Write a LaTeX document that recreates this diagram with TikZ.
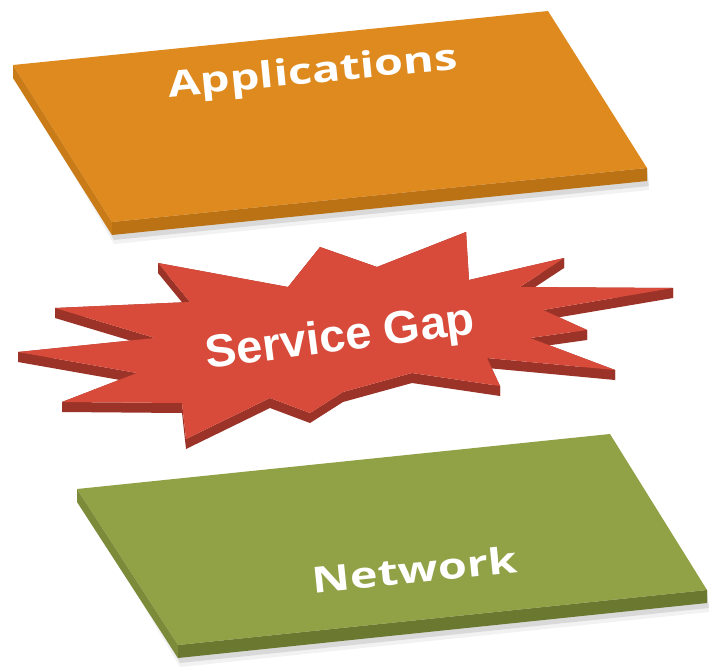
\documentclass[tikz,border=0pt]{standalone}
\usepackage{fontspec}
\newfontfamily\layerfont{Open Sans}
\newfontfamily\burstfont{Liberation Sans}
\usetikzlibrary{calc}
\definecolor{appTop}{HTML}{DE8A1E}
\definecolor{appFront}{HTML}{BB7214}
\definecolor{appLeft}{HTML}{C97B18}
\definecolor{netTop}{HTML}{91A146}
\definecolor{netFront}{HTML}{6A7830}
\definecolor{netLeft}{HTML}{7B8B3A}
\definecolor{gapTop}{HTML}{D84B3A}
\definecolor{gapSide}{HTML}{9C3328}
\begin{document}
\begin{tikzpicture}[x=1pt,y=-1pt,
  layertext/.style={text=white, inner sep=0pt, anchor=base,
    font=\layerfont\bfseries\fontsize{36}{40}\selectfont, rotate=#1, xscale=1.3},
  bursttext/.style={text=white, inner sep=0pt, anchor=base,
    font=\burstfont\bfseries\fontsize{46}{50}\selectfont, rotate=#1, xscale=1.02},
  softshadow/.style={fill=black, draw=none, opacity=#1}]
\useasboundingbox (0,0) rectangle (712,669);

% ---------- Applications layer (slab, 13 units thick) ----------
\coordinate (aTL) at (13,65);
\coordinate (aTR) at (548,11);
\coordinate (aBR) at (647,168);
\coordinate (aBL) at (112,222);
\foreach \off/\op in {5/0.10, 9/0.05}
  \fill[softshadow=\op] ($(aTL)+(2,\off)$) -- ($(aBL)+(2,13+\off)$) -- ($(aBR)+(2,13+\off)$) -- (aBR) -- cycle;
\fill[appLeft] (aTL) -- (aBL) -- ($(aBL)+(0,13)$) -- ($(aTL)+(0,13)$) -- cycle;
\fill[appFront] (aBL) -- (aBR) -- ($(aBR)+(0,13)$) -- ($(aBL)+(0,13)$) -- cycle;
\fill[appTop] (aTL) -- (aTR) -- (aBR) -- (aBL) -- cycle;
\node[layertext=5.6] (apps) at (314,83) {Applications};

% ---------- Service gap burst (extruded star, 10 units thick) ----------
\foreach \vn/\vx/\vy in {1/18/352, 2/155/338, 3/55/308, 4/190/302,
    5/158/263, 6/288/287, 7/320/247, 8/377/267,
    9/466/232, 10/469/280, 11/564/258, 12/520/287,
    13/673/288, 14/543/310, 15/587/330, 16/530/338,
    17/615/370, 18/487/358, 19/500/386, 20/412/373,
    21/343/392, 22/310/413, 23/270/398, 24/186/439,
    25/182/403, 26/62/402, 27/137/373}
  {\coordinate (s\vn) at (\vx,\vy);}
\foreach \ca/\cb in {1/2,2/3,3/4,4/5,5/6,6/7,7/8,8/9,9/10,10/11,11/12,12/13,13/14,14/15,15/16,16/17,17/18,18/19,19/20,20/21,21/22,22/23,23/24,24/25,25/26,26/27,27/1}
  {\fill[gapSide] (s\ca) -- (s\cb) -- ($(s\cb)+(0,10)$) -- ($(s\ca)+(0,10)$) -- cycle;}
\fill[gapTop] (s1) \foreach \vk in {2,...,27} { -- (s\vk) } -- cycle;
\node[bursttext=7.5] (gap) at (342,351) {Service Gap};

% ---------- Network layer (slab, 13 units thick) ----------
\coordinate (nTL) at (77,489);
\coordinate (nTR) at (610,434);
\coordinate (nBR) at (707,590);
\coordinate (nBL) at (178,645);
\foreach \off/\op in {5/0.10, 9/0.05}
  \fill[softshadow=\op] ($(nTL)+(2,\off)$) -- ($(nBL)+(2,13+\off)$) -- ($(nBR)+(2,13+\off)$) -- (nBR) -- cycle;
\fill[netLeft] (nTL) -- (nBL) -- ($(nBL)+(0,13)$) -- ($(nTL)+(0,13)$) -- cycle;
\fill[netFront] (nBL) -- (nBR) -- ($(nBR)+(0,13)$) -- ($(nBL)+(0,13)$) -- cycle;
\fill[netTop] (nTL) -- (nTR) -- (nBR) -- (nBL) -- cycle;
\node[layertext=5.8] (net) at (416,583) {Network};
\end{tikzpicture}
\end{document}
